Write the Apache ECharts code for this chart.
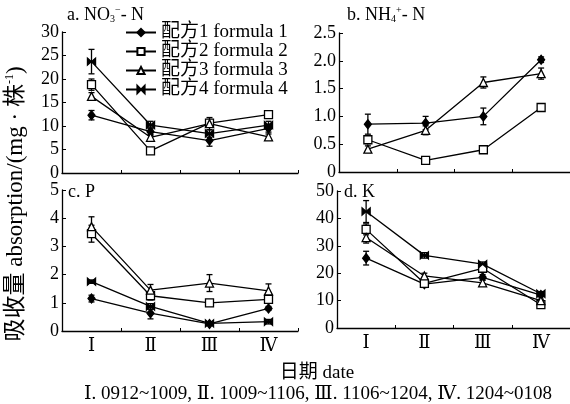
<!DOCTYPE html>
<html><head><meta charset="utf-8">
<script src="https://cdn.jsdelivr.net/npm/echarts@6/dist/echarts.min.js"></script>
<style>html,body{margin:0;padding:0;background:#fff}#c{width:570px;height:404px}</style>
</head><body><div id="c"></div>
<script>
const categories = ['Ⅰ','Ⅱ','Ⅲ','Ⅳ'];
const seriesNames = ['配方1 formula 1','配方2 formula 2','配方3 formula 3','配方4 formula 4'];

// a. NO3- - N
const no3_f1 = [12.3, 8.8, 6.9, 9.5];   const no3_f1_err = [1.0, 0.8, 1.2, 0.8];
const no3_f2 = [18.8, 4.7, 10.6, 12.4]; const no3_f2_err = [1.2, 0.5, 0.5, 0.5];
const no3_f3 = [16.3, 7.6, 10.5, 7.7];  const no3_f3_err = [0.8, 0.6, 1.3, 0.6];
const no3_f4 = [23.7, 10.2, 8.4, 10.2]; const no3_f4_err = [2.6, 0.8, 0.8, 0.8];
// b. NH4+ - N
const nh4_f1 = [0.86, 0.88, 1.00, 2.02]; const nh4_f1_err = [0.18, 0.12, 0.15, 0.05];
const nh4_f2 = [0.58, 0.21, 0.40, 1.16]; const nh4_f2_err = [0.07, 0.03, 0.05, 0.03];
const nh4_f3 = [0.41, 0.75, 1.61, 1.77]; const nh4_f3_err = [0.06, 0.08, 0.10, 0.10];
// c. P
const p_f1 = [1.15, 0.63, 0.25, 0.80]; const p_f1_err = [0.12, 0.20, 0.05, 0.07];
const p_f2 = [3.45, 1.25, 1.00, 1.12]; const p_f2_err = [0.30, 0.15, 0.10, 0.12];
const p_f3 = [3.70, 1.45, 1.70, 1.42]; const p_f3_err = [0.35, 0.20, 0.30, 0.25];
const p_f4 = [1.75, 0.87, 0.27, 0.33]; const p_f4_err = [0.06, 0.10, 0.05, 0.08];
// d. K
const k_f1 = [25.5, 16.0, 18.5, 12.0]; const k_f1_err = [2.5, 1.0, 1.0, 0.5];
const k_f2 = [36.0, 16.3, 21.8, 8.5];  const k_f2_err = [2.0, 1.5, 1.0, 0.8];
const k_f3 = [33.0, 19.0, 16.5, 10.0]; const k_f3_err = [2.0, 1.0, 1.0, 0.5];
const k_f4 = [42.5, 26.5, 23.3, 12.5]; const k_f4_err = [4.0, 1.0, 0.8, 0.8];

const yTicksA = [0, 30, 5], yTicksB = [0, 2.5, 0.5], yTicksC = [0, 5, 1], yTicksD = [0, 50, 10];

const SERIF = "'Liberation Serif','DejaVu Serif','Noto Sans CJK SC',serif";
const symbols = [
  {symbol:'diamond', size:[7,9], fill:'#000'},
  {symbol:'rect', size:8, fill:'#fff'},
  {symbol:'triangle', size:8, fill:'#fff'},
  {symbol:'path://M0,0L10,10L10,0L0,10Z', size:[8,7], fill:'#000'}
];

const panels = [
  {grid:{left:62, top:32, width:236, height:141}, y:yTicksA, fmt:v=>String(v), labels:false,
   data:[[no3_f1,no3_f1_err],[no3_f2,no3_f2_err],[no3_f3,no3_f3_err],[no3_f4,no3_f4_err]]},
  {grid:{left:339, top:33, width:236, height:139}, y:yTicksB, fmt:v=>v===0?'0':v.toFixed(1), labels:false,
   data:[[nh4_f1,nh4_f1_err],[nh4_f2,nh4_f2_err],[nh4_f3,nh4_f3_err],null]},
  {grid:{left:62, top:190, width:236, height:141}, y:yTicksC, fmt:v=>String(v), labels:true,
   data:[[p_f1,p_f1_err],[p_f2,p_f2_err],[p_f3,p_f3_err],[p_f4,p_f4_err]]},
  {grid:{left:337, top:191, width:236, height:137}, y:yTicksD, fmt:v=>String(v), labels:true,
   data:[[k_f1,k_f1_err],[k_f2,k_f2_err],[k_f3,k_f3_err],[k_f4,k_f4_err]]}
];

function errRender(params, api){
  const x = api.value(0), lo = api.value(1), hi = api.value(2);
  const p1 = api.coord([x, hi]), p2 = api.coord([x, lo]);
  const w = 3, st = {stroke:'#000', lineWidth:1.3};
  return {type:'group', children:[
    {type:'line', shape:{x1:p1[0],y1:p1[1],x2:p2[0],y2:p2[1]}, style:st},
    {type:'line', shape:{x1:p1[0]-w,y1:p1[1],x2:p1[0]+w,y2:p1[1]}, style:st},
    {type:'line', shape:{x1:p2[0]-w,y1:p2[1],x2:p2[0]+w,y2:p2[1]}, style:st}
  ]};
}

const grid = [], xAxis = [], yAxis = [], series = [];
panels.forEach((p, gi) => {
  grid.push(p.grid);
  xAxis.push({type:'category', gridIndex:gi, data:categories, boundaryGap:true,
    axisLine:{lineStyle:{color:'#000', width:1.3}},
    axisTick:{show:true, inside:true, length:3, lineStyle:{color:'#000'}},
    axisLabel:{show:p.labels, color:'#000', fontFamily:SERIF, fontSize:18, margin:6}});
  yAxis.push({type:'value', gridIndex:gi, min:p.y[0], max:p.y[1], interval:p.y[2],
    splitLine:{show:false},
    axisLine:{show:true, lineStyle:{color:'#000', width:1.3}},
    axisTick:{show:true, inside:true, length:4, lineStyle:{color:'#000'}},
    axisLabel:{color:'#000', fontFamily:SERIF, fontSize:18, margin:3, formatter:p.fmt}});
  p.data.forEach((d, si) => {
    if (!d) return;
    const [vals, errs] = d;
    series.push({type:'custom', xAxisIndex:gi, yAxisIndex:gi, renderItem:errRender,
      encode:{x:0, y:[1,2]}, silent:true, z:1,
      data: vals.map((v,i)=>[i, v-errs[i], v+errs[i]])});
    series.push({type:'line', name:seriesNames[si], xAxisIndex:gi, yAxisIndex:gi, data:vals,
      symbol:symbols[si].symbol, symbolSize:symbols[si].size, showAllSymbol:true, z:3,
      lineStyle:{color:'#000', width:1.3},
      itemStyle:{color:symbols[si].fill, borderColor:'#000', borderWidth:1.3}});
  });
});

const chart = echarts.init(document.getElementById('c'), null, {renderer:'canvas'});
chart.setOption({
  animation:false,
  backgroundColor:'#fff',
  grid, xAxis, yAxis, series,
  legend:{data:seriesNames, orient:'vertical', left:120, top:18, itemWidth:30, itemHeight:9, itemGap:0,
    textStyle:{color:'#000', fontFamily:SERIF, fontSize:19, lineHeight:19}, selectedMode:false},
  graphic:[
    {type:'text', left:67, top:5, style:{text:'{t|a. NO}{s|3}{p|−}{t|- N}', rich:{
      t:{fontFamily:SERIF, fontSize:18, fill:'#000'},
      s:{fontFamily:SERIF, fontSize:10, fill:'#000', padding:[8,0,0,0]},
      p:{fontFamily:SERIF, fontSize:10, fill:'#000', padding:[0,0,10,0]}}}},
    {type:'text', left:347, top:5, style:{text:'{t|b. NH}{s|4}{p|+}{t|- N}', rich:{
      t:{fontFamily:SERIF, fontSize:18, fill:'#000'},
      s:{fontFamily:SERIF, fontSize:10, fill:'#000', padding:[8,0,0,0]},
      p:{fontFamily:SERIF, fontSize:10, fill:'#000', padding:[0,0,10,0]}}}},
    {type:'text', left:68, top:183, style:{text:'c. P', font:'18px '+SERIF, fill:'#000'}},
    {type:'text', left:344, top:183, style:{text:'d. K', font:'18px '+SERIF, fill:'#000'}},
    {type:'text', x:16, y:204, rotation:Math.PI/2, style:{text:'{t|吸收量 absorption/(mg · 株}{p|-1}{t|)}',
      align:'center', verticalAlign:'middle', rich:{
        t:{fontFamily:SERIF, fontSize:23, fill:'#000'},
        p:{fontFamily:SERIF, fontSize:12, fill:'#000', padding:[0,0,12,0]}}}},
    {type:'text', x:317, y:373, style:{text:'日期 date', font:'19px '+SERIF, fill:'#000', align:'center', verticalAlign:'middle'}},
    {type:'text', x:318, y:394, style:{text:'Ⅰ. 0912~1009, Ⅱ. 1009~1106, Ⅲ. 1106~1204, Ⅳ. 1204~0108', font:'19px '+SERIF, fill:'#000', align:'center', verticalAlign:'middle'}}
  ]
});
</script></body></html>
